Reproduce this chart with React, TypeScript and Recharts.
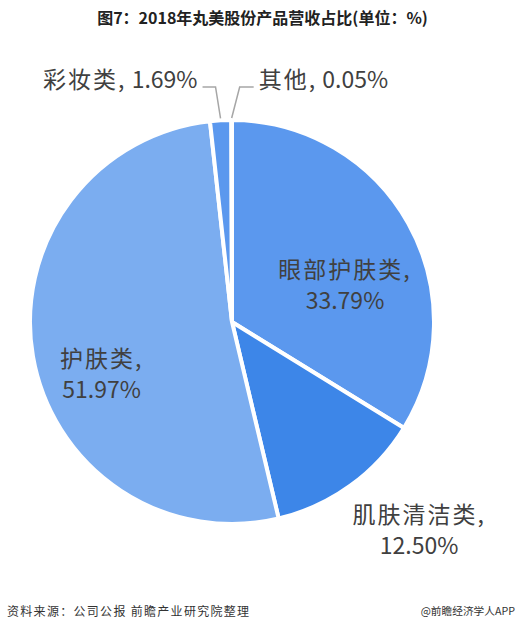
import React from "react";
import { PieChart, Pie, Cell } from "recharts";

// 2018年丸美股份产品营收占比 (%)
const categories = ["眼部护肤类", "肌肤清洁类", "护肤类", "彩妆类", "其他"];
const shares = [33.79, 12.5, 51.97, 1.69, 0.05];
const sliceColors = ["#5b98ee", "#3d86e8", "#7badf0", "#5b98ee", "#5b98ee"];

const data = categories.map((name, i) => ({ name, value: shares[i] }));

const W = 525;
const H = 638;
const RAD = Math.PI / 180;
const FONT = "'Noto Sans CJK SC', 'Noto Sans', sans-serif";
const TEXT = "#404040";

// label placement per slice: inner labels sit inside the wedge, outer ones use an elbow leader
type Inner = { kind: "inner"; r: number; dx: number; dy: number };
type Outer = { kind: "outer"; elbowDx: number; elbowR: number; arm: number };
const placement: Record<string, Inner | Outer> = {
  眼部护肤类: { kind: "inner", r: 0.55, dx: 16, dy: 10 },
  肌肤清洁类: { kind: "inner", r: 1.37, dx: 25, dy: -23 },
  护肤类: { kind: "inner", r: 0.66, dx: 1, dy: 22 },
  彩妆类: { kind: "outer", elbowDx: -5, elbowR: 235, arm: -13 },
  其他: { kind: "outer", elbowDx: 8, elbowR: 235, arm: 14 },
};

const fmt = (v: number) => `${v.toFixed(2)}%`;

const renderLabel = (props: any) => {
  const { cx, cy, midAngle, outerRadius, name, value } = props;
  const p = placement[name];
  if (!p) return null;
  const cos = Math.cos(-midAngle * RAD);
  const sin = Math.sin(-midAngle * RAD);
  if (p.kind === "inner") {
    const x = cx + outerRadius * p.r * cos + p.dx;
    const y = cy + outerRadius * p.r * sin + p.dy;
    return (
      <text x={x} y={y} fill={TEXT} fontSize={23} fontFamily={FONT} textAnchor="middle">
        <tspan x={x} dy={0} letterSpacing={2}>{name},</tspan>
        <tspan x={x} dy={31}>{fmt(value)}</tspan>
      </text>
    );
  }
  const sx = cx + (outerRadius + 2) * cos;
  const sy = cy + (outerRadius + 2) * sin;
  const ex = sx + p.elbowDx;
  const ey = cy - p.elbowR;
  const tx = ex + p.arm;
  const left = p.arm < 0;
  return (
    <g>
      <polyline
        points={`${sx},${sy} ${ex},${ey} ${tx},${ey}`}
        fill="none"
        stroke="#a6a6a6"
        strokeWidth={1.5}
      />
      <text
        x={tx + (left ? -5 : 5)}
        y={ey + 1}
        fill={TEXT}
        fontSize={23}
        fontFamily={FONT}
        textAnchor={left ? "end" : "start"}
      >
        <tspan letterSpacing={2}>{name},</tspan>
        <tspan> {fmt(value)}</tspan>
      </text>
    </g>
  );
};

export default function App() {
  return (
    <div style={{ position: "absolute", left: 0, top: 0, width: W, height: H, background: "#fff" }}>
      <div
        style={{
          position: "absolute",
          left: 0,
          top: 6,
          width: W,
          textAlign: "center",
          fontFamily: FONT,
          fontWeight: 700,
          fontSize: 16,
          color: "#222",
          lineHeight: "22px",
        }}
      >
        图7：2018年丸美股份产品营收占比(单位：%)
      </div>
      <PieChart width={W} height={H} style={{ position: "absolute", left: 0, top: 0 }}>
        <Pie
          data={data}
          dataKey="value"
          nameKey="name"
          cx={227}
          cy={317}
          outerRadius={202}
          startAngle={90}
          endAngle={-270}
          stroke="#ffffff"
          strokeWidth={4}
          label={renderLabel}
          labelLine={false}
          isAnimationActive={false}
        >
          {data.map((d, i) => (
            <Cell key={d.name} fill={sliceColors[i]} />
          ))}
        </Pie>
      </PieChart>
      <div
        style={{
          position: "absolute",
          left: 7,
          top: 602,
          fontFamily: FONT,
          fontSize: 12,
          letterSpacing: 1.3,
          color: "#333",
          lineHeight: "18px",
        }}
      >
        资料来源：公司公报 前瞻产业研究院整理
      </div>
      <div
        style={{
          position: "absolute",
          right: 10,
          top: 602,
          fontFamily: FONT,
          fontSize: 10.7,
          color: "#333",
          lineHeight: "18px",
        }}
      >
        @前瞻经济学人APP
      </div>
    </div>
  );
}
